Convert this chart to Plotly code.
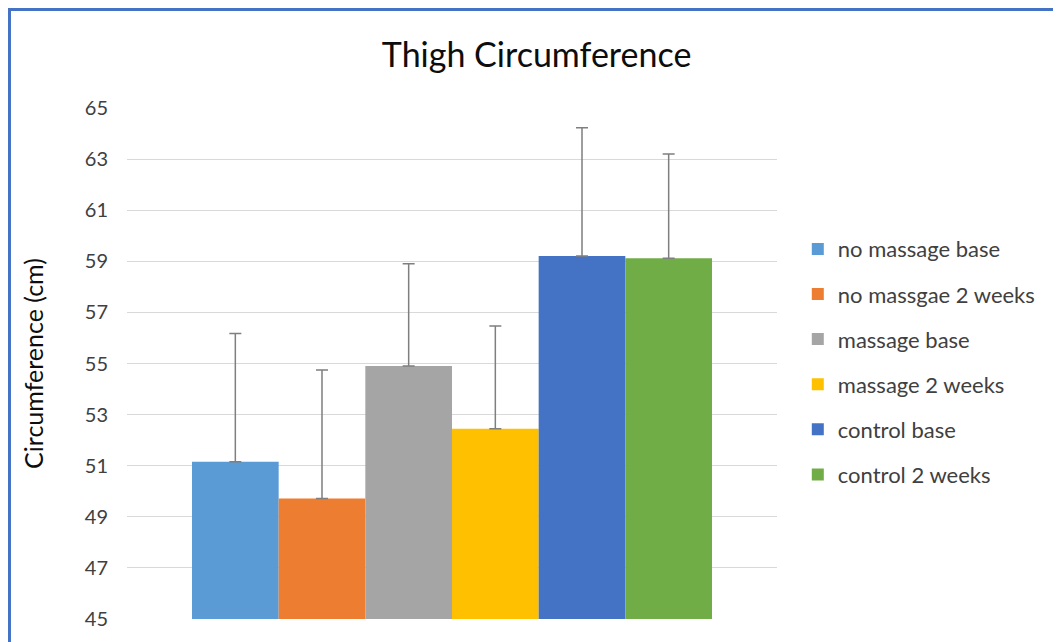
import plotly.graph_objects as go

# Group names as shown in the legend (typo kept from the original)
groups = ["no massage base", "no massgae 2 weeks", "massage base",
          "massage 2 weeks", "control base", "control 2 weeks"]
means = [51.15, 49.72, 54.90, 52.45, 59.21, 59.12]
errors_up = [5.02, 5.03, 4.00, 4.02, 5.02, 4.08]
colors = ["#5b9bd5", "#ed7d31", "#a5a5a5", "#ffc000", "#4472c4", "#70ad47"]
y_ticks = [45, 47, 49, 51, 53, 55, 57, 59, 61, 63, 65]

FONT = "Lato"

fig = go.Figure()

# One bar trace per group so each gets its own legend entry
for i, name in enumerate(groups):
    fig.add_trace(go.Bar(
        x=["Thigh"],
        y=[means[i]],
        name=name,
        legendgroup=name,
        marker=dict(color=colors[i], line=dict(width=0)),
        error_y=dict(
            type="data",
            symmetric=False,
            array=[errors_up[i]],
            arrayminus=[0],
            color="#7f7f7f",
            thickness=1.5,
            width=6,
        ),
    ))

# Outer chart border (blue frame like the Excel chart area)
fig.add_shape(
    type="rect", xref="paper", yref="paper",
    x0=-0.1808, x1=1.45, y0=-0.08, y1=1.1928,
    line=dict(color="#4472c4", width=3),
    fillcolor="rgba(0,0,0,0)",
)

# page body has an 8px margin, so the figure is sized to fit the window
fig.update_layout(
    width=1053,
    height=634,
    barmode="group",
    bargap=0.2,
    bargroupgap=0,
    plot_bgcolor="white",
    paper_bgcolor="white",
    margin=dict(l=119, r=284, t=100, b=23),
    title=dict(
        text="Thigh Circumference",
        x=0.502, xanchor="center",
        y=0.925, yanchor="middle",
        font=dict(family=FONT, size=34, color="#0d0d0d"),
    ),
    font=dict(family=FONT, size=20, color="#595959"),
    xaxis=dict(showticklabels=False, showgrid=False, zeroline=False,
               showline=False, ticks=""),
    yaxis=dict(
        range=[45, 65],
        tickvals=y_ticks,
        showgrid=True,
        gridcolor="#d9d9d9",
        gridwidth=1,
        zeroline=False,
        showline=False,
        ticks="",
        ticklabelstandoff=18,
        tickfont=dict(family=FONT, size=20, color="#404040"),
        title=dict(text="Circumference (cm)",
                   font=dict(family=FONT, size=25, color="#0d0d0d"),
                   standoff=34),
    ),
    legend=dict(
        x=1.032, xanchor="left",
        y=0.765, yanchor="top",
        traceorder="grouped",
        tracegroupgap=13.5,
        font=dict(family=FONT, size=22, color="#404040"),
        itemwidth=30,
        bgcolor="rgba(0,0,0,0)",
    ),
    showlegend=True,
)

fig.write_html("out.html")
